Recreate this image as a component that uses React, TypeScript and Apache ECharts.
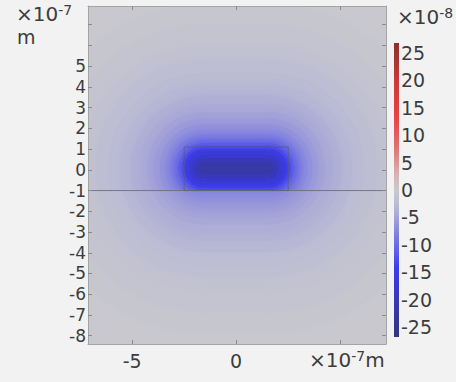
import { useEffect, useRef } from 'react';
import * as echarts from 'echarts';

// ---- axes (units of 1e-7 m) ----
const xRange = [-7.12, 7.2];
const yRange = [-8.4, 7.9];
const xTickValues = [-5, 0, 5];
const xLabelValues = [-5, 0];
const yTickValues = [-8, -7, -6, -5, -4, -3, -2, -1, 0, 1, 2, 3, 4, 5, 6, 7];
const yLabelValues = [-8, -7, -6, -5, -4, -3, -2, -1, 0, 1, 2, 3, 4, 5];

// ---- colour bar (units of 1e-8) ----
const colorRange = [-26.8, 26.8];
const colorbarLabelValues = [-25, -20, -15, -10, -5, 0, 5, 10, 15, 20, 25];
const colormapValues = [-26.8, -20, -14, -11, -8, -5, -2.5, 0, 3, 8, 13, 20, 26.8];
const colormapColors = ['#34347e', '#3838b4', '#3c3cf0', '#6060e8', '#8080e0', '#a4a4d8', '#bcbcd4', '#cacacd', '#d8b0b0', '#e07070', '#e84444', '#c83a3a', '#8c2e2e'];

// ---- geometry ----
const interfaceY = -1;
const interfaceLine = [[xRange[0], interfaceY], [xRange[1], interfaceY]];
const particleBox = [[-2.5, -1], [-2.5, 1.1], [2.5, 1.1], [2.5, -1], [-2.5, -1]];

// ---- field: value bands at offset distance d from the particle's core outline ----
const coreCenter = [0, 0.07];
const coreHalfLength = 1.55;
const coreRadius = 0.92;
const upperOffsets = [12, 7, 6, 5, 4.3, 3.7, 3.1, 2.6, 2.2, 1.8, 1.5, 1.2, 0.95, 0.7, 0.5, 0.3, 0.15, 0, -0.15, -0.3, -0.45, -0.6, -0.72];
const upperValues = [-0.3, -0.8, -1.1, -1.6, -2.1, -2.6, -3.1, -3.7, -4.3, -5.0, -5.6, -6.3, -7.1, -8.1, -9.3, -10.8, -12.4, -14.6, -15.8, -17.2, -18.7, -20.2, -21.6];
const lowerOffsets = [12, 7, 6, 5, 4.3, 3.7, 3.1, 2.6, 2.2, 1.8, 1.5, 1.2, 0.95, 0.7, 0.5, 0.3];
const lowerValues = [-0.3, -0.7, -1.0, -1.4, -1.9, -2.4, -2.9, -3.4, -3.9, -4.4, -4.9, -5.4, -5.9, -6.4, -6.9, -7.4];

const hex = (c: string) => [1, 3, 5].map((i) => parseInt(c.slice(i, i + 2), 16));
function colorAt(v: number): string {
  const vs = colormapValues;
  if (v <= vs[0]) return colormapColors[0];
  if (v >= vs[vs.length - 1]) return colormapColors[vs.length - 1];
  let i = 0;
  while (v > vs[i + 1]) i++;
  const t = (v - vs[i]) / (vs[i + 1] - vs[i]);
  const a = hex(colormapColors[i]);
  const b = hex(colormapColors[i + 1]);
  const m = a.map((x, k) => Math.round(x + (b[k] - x) * t));
  return `rgb(${m[0]},${m[1]},${m[2]})`;
}

const FONT = 'DejaVu Sans';
const TEXT = '#3c3c3c';

const stadiumRender = (blur: number) => (_params: any, api: any) => {
  const d = api.value(0);
  const v = api.value(1);
  const r = coreRadius + d;
  const tl = api.coord([coreCenter[0] - coreHalfLength - r, coreCenter[1] + r]);
  const br = api.coord([coreCenter[0] + coreHalfLength + r, coreCenter[1] - r]);
  const w = br[0] - tl[0];
  const h = br[1] - tl[1];
  const c = colorAt(v);
  return {
    type: 'rect',
    shape: { x: tl[0], y: tl[1], width: w, height: h, r: h / 2 },
    style: { fill: c, shadowBlur: d > 0.1 ? blur : 6, shadowColor: c },
  };
};

const axisLineStyle = { show: true, onZero: false, lineStyle: { color: '#a4a4a4', width: 1 } };
const tickStyle = (values: number[]) => ({
  show: true, inside: true, length: 4, customValues: values, lineStyle: { color: '#8a8a8a' },
});
const richUnit = {
  a: { fontFamily: FONT, fontSize: 20, fill: TEXT, lineHeight: 22 },
  b: { fontFamily: FONT, fontSize: 14, fill: TEXT, verticalAlign: 'top', lineHeight: 12 },
};

export default function App() {
  const ref = useRef<HTMLDivElement>(null);
  useEffect(() => {
    if (!ref.current) return;
    const chart = echarts.init(ref.current, undefined, { renderer: 'svg' });
    const plotLeft = 88;
    const plotTop = 6;
    const plotW = 298;
    const plotH = 338;
    const upperH = (plotH * (yRange[1] - interfaceY)) / (yRange[1] - yRange[0]);

    const hiddenX = (gridIndex: number) => ({
      type: 'value', gridIndex, min: xRange[0], max: xRange[1], show: false,
    });

    chart.setOption({
      animation: false,
      backgroundColor: '#f2f2f2',
      grid: [
        { left: plotLeft, top: plotTop, width: plotW, height: plotH },
        { left: plotLeft, top: plotTop, width: plotW, height: upperH },
        { left: plotLeft, top: plotTop + upperH, width: plotW, height: plotH - upperH },
        { left: 394, top: 43, width: 5, height: 294 },
      ],
      xAxis: [
        {
          type: 'value', gridIndex: 0, min: xRange[0], max: xRange[1], position: 'bottom', z: 5,
          axisLine: axisLineStyle,
          axisTick: tickStyle(xTickValues),
          axisLabel: { customValues: xLabelValues, fontFamily: FONT, fontSize: 19, color: TEXT, margin: 7 },
          splitLine: { show: false },
        },
        {
          type: 'value', gridIndex: 0, min: xRange[0], max: xRange[1], position: 'top', z: 5,
          axisLine: axisLineStyle,
          axisTick: tickStyle(xTickValues),
          axisLabel: { show: false },
          splitLine: { show: false },
        },
        hiddenX(1),
        hiddenX(2),
        { type: 'value', gridIndex: 3, min: -1, max: 1, show: false },
      ],
      yAxis: [
        {
          type: 'value', gridIndex: 0, min: yRange[0], max: yRange[1], position: 'left', z: 5,
          axisLine: axisLineStyle,
          axisTick: tickStyle(yTickValues),
          axisLabel: { customValues: yLabelValues, fontFamily: FONT, fontSize: 17, color: TEXT, margin: 2 },
          splitLine: { show: false },
        },
        {
          type: 'value', gridIndex: 0, min: yRange[0], max: yRange[1], position: 'right', z: 5,
          axisLine: axisLineStyle,
          axisTick: tickStyle(yTickValues),
          axisLabel: { show: false },
          splitLine: { show: false },
        },
        { type: 'value', gridIndex: 1, min: interfaceY, max: yRange[1], show: false },
        { type: 'value', gridIndex: 2, min: yRange[0], max: interfaceY, show: false },
        {
          type: 'value', gridIndex: 3, min: colorRange[0], max: colorRange[1], position: 'right',
          axisLine: { show: false }, axisTick: { show: false }, splitLine: { show: false },
          axisLabel: { customValues: colorbarLabelValues, fontFamily: FONT, fontSize: 19, color: TEXT, margin: 2 },
        },
      ],
      series: [
        {
          type: 'custom', xAxisIndex: 2, yAxisIndex: 2, clip: true, z: 1, silent: true,
          data: upperOffsets.map((d, i) => [d, upperValues[i]]),
          renderItem: stadiumRender(8),
        },
        {
          type: 'custom', xAxisIndex: 3, yAxisIndex: 3, clip: true, z: 1, silent: true,
          data: lowerOffsets.map((d, i) => [d, lowerValues[i]]),
          renderItem: stadiumRender(8),
        },
        {
          type: 'line', xAxisIndex: 0, yAxisIndex: 0, z: 3, silent: true, symbol: 'none',
          data: particleBox, lineStyle: { color: 'rgba(90,90,110,0.75)', width: 1 },
        },
        {
          type: 'line', xAxisIndex: 0, yAxisIndex: 0, z: 3, silent: true, symbol: 'none',
          data: interfaceLine, lineStyle: { color: 'rgba(100,100,115,0.8)', width: 1 },
        },
        {
          type: 'custom', xAxisIndex: 4, yAxisIndex: 4, silent: true, z: 2,
          data: [[0, 0]],
          renderItem: (params: any, api: any) => {
            const top = api.coord([0, colorRange[1]]);
            const bot = api.coord([0, colorRange[0]]);
            const cs = params.coordSys;
            const span = colorRange[1] - colorRange[0];
            return {
              type: 'rect',
              shape: { x: cs.x, y: top[1], width: cs.width, height: bot[1] - top[1] },
              style: {
                fill: new echarts.graphic.LinearGradient(0, 0, 0, 1,
                  colormapValues.map((v, i) => ({ offset: (colorRange[1] - v) / span, color: colormapColors[i] })).reverse()),
              },
            };
          },
        },
      ],
      graphic: [
        {
          type: 'text', left: 16, top: 3,
          style: { text: '{a|×10}{b|-7}', fill: TEXT, rich: richUnit },
        },
        {
          type: 'text', left: 17, top: 27,
          style: { text: 'm', fontFamily: FONT, fontSize: 19, lineHeight: 14, fill: TEXT },
        },
        {
          type: 'text', left: 309, top: 349,
          style: { text: '{a|×10}{b|-7}{a|m}', fill: TEXT, rich: richUnit },
        },
        {
          type: 'text', x: 397, y: 6,
          style: { text: '{a|×10}{b|-8}', fill: TEXT, rich: richUnit },
        },
      ],
    });
    return () => chart.dispose();
  }, []);
  return (
    <div
      ref={ref}
      style={{ position: 'absolute', left: 0, top: 0, width: 456, height: 382, background: '#f2f2f2' }}
    />
  );
}
